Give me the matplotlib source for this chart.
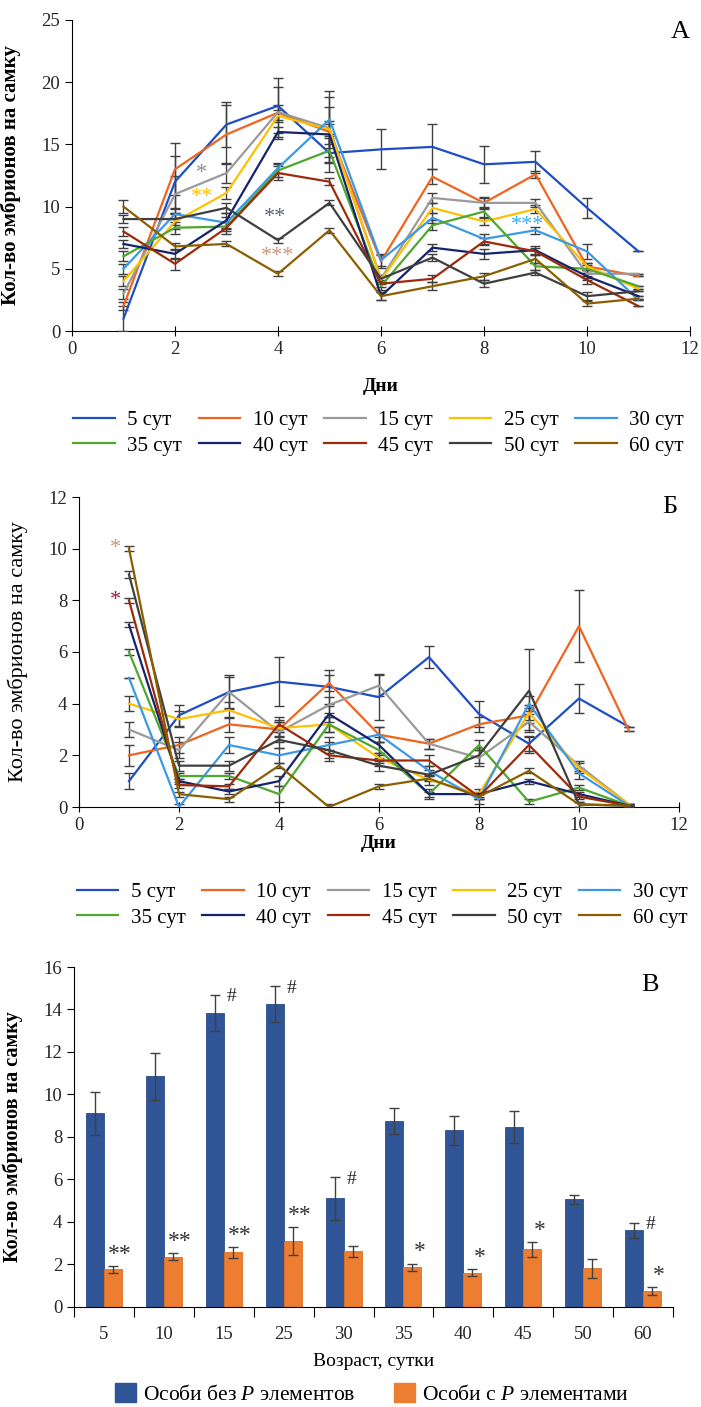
import matplotlib
matplotlib.use("Agg")
import matplotlib.pyplot as plt
from matplotlib.patches import Patch
from matplotlib.lines import Line2D
import numpy as np

plt.rcParams['font.family'] = ['Liberation Serif', 'DejaVu Serif']
plt.rcParams['mathtext.fontset'] = 'custom'
plt.rcParams['mathtext.rm'] = 'Liberation Serif'
plt.rcParams['mathtext.it'] = 'Liberation Serif:italic'

# ---- data ----
days = [1, 2, 3, 4, 5, 6, 7, 8, 9, 10, 11]
series_names = ["5 сут", "10 сут", "15 сут", "25 сут", "30 сут",
                "35 сут", "40 сут", "45 сут", "50 сут", "60 сут"]
series_colors = ["#1f4ec4", "#f0641e", "#9a9a9a", "#ffc000", "#3a9ae8",
                 "#4ea72e", "#15236b", "#9e2a0b", "#3f3f3f", "#8b5f00"]

# panel A: without P elements
a_vals = [
    [1.0, 12.0, 16.6, 18.1, 14.3, 14.6, 14.8, 13.4, 13.6, 9.9, 6.4],
    [2.0, 13.0, 15.8, 17.55, 16.0, 5.6, 12.4, 10.3, 12.6, 5.2, 4.4],
    [3.0, 11.0, 12.7, 17.6, 16.3, 4.2, 10.7, 10.3, 10.3, 4.6, 4.6],
    [4.0, 8.8, 11.1, 17.3, 16.2, 4.1, 9.9, 8.8, 9.8, 5.2, 3.4],
    [5.0, 9.4, 8.7, 13.1, 17.0, 5.7, 9.1, 7.4, 8.1, 6.4, 2.5],
    [6.0, 8.3, 8.4, 12.9, 14.5, 3.6, 8.5, 9.6, 5.2, 5.0, 3.6],
    [7.0, 6.2, 8.9, 16.0, 15.8, 2.8, 6.7, 6.2, 6.5, 4.4, 2.8],
    [8.0, 5.4, 8.3, 12.7, 12.0, 3.8, 4.2, 7.2, 6.4, 4.1, 2.0],
    [9.0, 9.0, 9.9, 7.3, 10.3, 4.2, 5.9, 3.8, 4.7, 2.8, 3.2],
    [10.0, 6.8, 7.0, 4.6, 8.1, 2.8, 3.6, 4.4, 5.8, 2.2, 2.6],
]
a_errs = [
    [1.0, 2.1, 1.8, 2.2, 1.5, 1.6, 1.8, 1.5, 0.9, 0.8, 0.0],
    [0.3, 2.1, 2.4, 2.1, 2.0, 0.5, 0.6, 0.5, 0.3, 0.3, 0.0],
    [0.4, 1.5, 0.8, 0.6, 0.6, 0.3, 0.4, 0.4, 0.3, 0.3, 0.0],
    [0.4, 0.6, 0.5, 0.5, 2.6, 0.3, 0.4, 0.3, 0.3, 0.3, 0.0],
    [0.4, 0.4, 0.5, 0.4, 2.3, 0.5, 0.4, 0.4, 0.3, 0.6, 0.0],
    [0.4, 0.5, 0.4, 0.5, 1.0, 0.3, 0.4, 0.4, 0.3, 0.3, 0.0],
    [0.3, 0.4, 0.6, 0.4, 0.8, 0.3, 0.3, 0.4, 0.3, 0.3, 0.0],
    [0.4, 0.5, 0.5, 0.6, 0.3, 0.3, 0.3, 0.3, 0.3, 0.3, 0.0],
    [0.3, 0.5, 0.4, 0.2, 0.2, 0.3, 0.3, 0.3, 0.2, 0.3, 0.0],
    [0.5, 0.3, 0.2, 0.2, 0.2, 0.3, 0.3, 0.3, 0.3, 0.2, 0.0],
]

# panel Б: with P elements
b_vals = [
    [1.0, 3.55, 4.45, 4.85, 4.65, 4.25, 5.8, 3.6, 2.45, 4.2, 3.1],
    [2.0, 2.4, 3.2, 3.0, 4.8, 2.8, 2.45, 3.2, 3.55, 7.0, 2.95],
    [3.0, 2.2, 4.45, 2.9, 3.95, 4.7, 2.45, 1.9, 3.3, 1.6, 0.1],
    [4.0, 3.4, 3.75, 3.05, 3.2, 1.9, 1.05, 0.5, 3.65, 1.5, 0.1],
    [5.0, 0.0, 2.4, 2.0, 2.4, 2.8, 1.4, 0.3, 4.0, 1.3, 0.05],
    [6.0, 1.2, 1.2, 0.5, 3.2, 2.2, 0.5, 2.4, 0.2, 0.75, 0.05],
    [7.05, 1.0, 0.6, 1.0, 3.6, 2.4, 0.5, 0.5, 1.0, 0.5, 0.05],
    [8.0, 0.85, 0.8, 3.2, 2.0, 1.8, 1.8, 0.4, 2.4, 0.4, 0.05],
    [9.0, 1.6, 1.6, 2.6, 2.2, 1.6, 1.25, 2.0, 4.5, 0.1, 0.05],
    [10.0, 0.5, 0.3, 1.6, 0.0, 0.8, 1.1, 0.4, 1.4, 0.1, 0.05],
]
b_errs = [
    [0.3, 0.4, 0.65, 0.95, 0.65, 0.9, 0.42, 0.5, 0.3, 0.55, 0.0],
    [0.4, 0.3, 0.3, 0.3, 0.3, 0.3, 0.2, 0.3, 0.3, 1.4, 0.0],
    [0.3, 0.3, 0.6, 0.4, 0.3, 0.4, 0.2, 0.3, 0.3, 0.2, 0.0],
    [0.3, 0.3, 0.3, 0.3, 0.3, 0.2, 0.2, 0.2, 0.3, 0.2, 0.0],
    [0.0, 0.1, 0.3, 0.3, 0.3, 0.3, 0.2, 0.2, 0.3, 0.2, 0.0],
    [0.1, 0.1, 0.1, 0.3, 0.3, 0.3, 0.2, 0.2, 0.1, 0.1, 0.0],
    [0.1, 0.1, 0.1, 0.2, 0.3, 0.3, 0.1, 0.1, 0.1, 0.1, 0.0],
    [0.1, 0.1, 0.1, 0.3, 0.2, 0.2, 0.2, 0.1, 0.3, 0.1, 0.0],
    [0.15, 0.2, 0.2, 0.3, 0.3, 0.2, 0.2, 0.3, 1.6, 0.1, 0.0],
    [0.1, 0.1, 0.1, 0.1, 0.1, 0.1, 0.1, 0.1, 0.1, 0.1, 0.0],
]

# panel В: mean per age
ages = ["5", "10", "15", "25", "30", "35", "40", "45", "50", "60"]
no_p = [9.1, 10.85, 13.85, 14.25, 5.1, 8.75, 8.3, 8.45, 5.05, 3.6]
no_p_err = [1.0, 1.1, 0.85, 0.85, 1.0, 0.6, 0.7, 0.75, 0.2, 0.35]
with_p = [1.75, 2.35, 2.55, 3.1, 2.6, 1.85, 1.6, 2.7, 1.8, 0.72]
with_p_err = [0.17, 0.15, 0.25, 0.65, 0.25, 0.17, 0.15, 0.35, 0.45, 0.2]
no_p_marks = ["", "", "#", "#", "#", "", "", "", "", "#"]
with_p_marks = ["**", "**", "**", "**", "", "*", "*", "*", "", "*"]

W, H = 701, 1407
fig = plt.figure(figsize=(W / 100, H / 100), dpi=100)

def frac_box(x0, x1, ytop, ybot):
    return [x0 / W, 1 - ybot / H, (x1 - x0) / W, (ybot - ytop) / H]

err_col = "#404040"
tick_col = "#262626"


def line_panel(ax, vals, errs, ymax, ystep):
    for v, e, c in zip(vals, errs, series_colors):
        ax.errorbar(days, v, yerr=e, color=c, lw=1.6, ecolor=err_col,
                    elinewidth=1.0, capsize=3.5, capthick=1.0, zorder=3)
    ax.set_xlim(0, 12)
    ax.set_ylim(0, ymax)
    ax.set_xticks(range(0, 13, 2))
    ax.set_yticks(np.arange(0, ymax + 0.1, ystep))
    for s in ["top", "right"]:
        ax.spines[s].set_visible(False)
    ax.tick_params(axis="both", labelsize=13.5, colors="black", labelcolor=tick_col)
    ax.tick_params(axis="x", direction="inout", length=7)
    ax.tick_params(axis="y", direction="out", length=5)


# legend fills column by column, so interleave the two rows
order = [0, 5, 1, 6, 2, 7, 3, 8, 4, 9]
handles = [Line2D([0], [0], color=series_colors[i], lw=1.6) for i in order]
labels = [series_names[i] for i in order]

# ---- Panel A ----
axA = fig.add_axes(frac_box(72, 690, 20, 331))
line_panel(axA, a_vals, a_errs, 25, 5)
axA.set_ylabel("Кол-во эмбрионов на самку", fontsize=15, fontweight="bold")
axA.yaxis.set_label_coords(-0.083, 0.5)
axA.text(0.5, -0.18, "Дни", transform=axA.transAxes, ha="center", va="center",
         fontsize=14, fontweight="bold")
axA.text(0.985, 0.961, "А", transform=axA.transAxes, ha="center", va="center", fontsize=19)
axA.text(2.52, 12.7, "*", color="#8a8a8a", fontsize=16, ha="center", va="center")
axA.text(2.52, 10.7, "**", color="#ffc000", fontsize=16, ha="center", va="center")
axA.text(3.95, 9.1, "**", color="#5a6478", fontsize=16, ha="center", va="center")
axA.text(4.0, 6.0, "***", color="#c99580", fontsize=16, ha="center", va="center")
axA.text(8.85, 8.5, "***", color="#3aaaf0", fontsize=16, ha="center", va="center")

fig.legend(handles, labels, loc="center", bbox_to_anchor=(0.54, 1 - 433 / H),
           ncol=5, frameon=False, fontsize=15, handlelength=2.0, columnspacing=0.8,
           handletextpad=0.6, labelspacing=0.3)

# ---- Panel Б ----
axB = fig.add_axes(frac_box(79, 679, 497, 807))
line_panel(axB, b_vals, b_errs, 12, 2)
axB.set_ylabel("Кол-во эмбрионов на самку", fontsize=16)
axB.yaxis.set_label_coords(-0.085, 0.5)
axB.text(0.5, -0.118, "Дни", transform=axB.transAxes, ha="center", va="center",
         fontsize=14, fontweight="bold")
axB.text(0.985, 0.968, "Б", transform=axB.transAxes, ha="center", va="center", fontsize=19)
axB.text(0.72, 10.0, "*", color="#c99580", fontsize=16, ha="center", va="center")
axB.text(0.72, 8.0, "*", color="#9b1c3c", fontsize=16, ha="center", va="center")

fig.legend(handles, labels, loc="center", bbox_to_anchor=(0.545, 1 - 905 / H),
           ncol=5, frameon=False, fontsize=15, handlelength=2.0, columnspacing=0.8,
           handletextpad=0.6, labelspacing=0.3)

# ---- Panel В ----
axC = fig.add_axes(frac_box(74, 673, 967, 1306.5))
x = np.arange(len(ages))
bw = 0.3
axC.bar(x - bw / 2, no_p, bw, color="#2f5597", edgecolor="#2a4c88", lw=0.6,
        yerr=no_p_err, ecolor=err_col, error_kw=dict(elinewidth=1.0, capsize=3.5, capthick=1.0))
axC.bar(x + bw / 2, with_p, bw, color="#ed7d31", edgecolor="#e07020", lw=0.6,
        yerr=with_p_err, ecolor=err_col, error_kw=dict(elinewidth=1.0, capsize=3.5, capthick=1.0))
for i in range(len(ages)):
    if no_p_marks[i]:
        axC.text(x[i] + 0.13, no_p[i] + no_p_err[i] - 0.1, no_p_marks[i], fontsize=14,
                 ha="center", va="center", color="#222222")
    if with_p_marks[i]:
        axC.text(x[i] + bw / 2 + 0.12, with_p[i] + with_p_err[i] + 0.55, with_p_marks[i],
                 fontsize=17, ha="center", va="center", color="#333333")
axC.set_xlim(-0.5, len(ages) - 0.5)
axC.set_ylim(0, 16)
axC.set_yticks(range(0, 17, 2))
axC.set_xticks(np.arange(-0.5, len(ages), 1.0))
axC.set_xticklabels([])
axC.set_xticks(x, minor=True)
axC.set_xticklabels(ages, minor=True)
axC.tick_params(axis="x", which="major", direction="out", length=7)
axC.tick_params(axis="x", which="minor", length=0, pad=14)
axC.tick_params(axis="both", which="both", labelsize=13.5, labelcolor=tick_col)
axC.tick_params(axis="y", direction="out", length=5)
for s in ["top", "right"]:
    axC.spines[s].set_visible(False)
axC.set_ylabel("Кол-во эмбрионов на самку", fontsize=14.5, fontweight="bold")
axC.yaxis.set_label_coords(-0.085, 0.5)
axC.text(0.5, -0.163, "Возраст, сутки", transform=axC.transAxes, ha="center", va="center",
         fontsize=14)
axC.text(0.962, 0.947, "В", transform=axC.transAxes, ha="center", va="center", fontsize=19)

bar_handles = [Patch(color="#2f5597"), Patch(color="#ed7d31")]
fig.legend(bar_handles, ["Особи без $\\mathit{P}$ элементов", "Особи с $\\mathit{P}$ элементами"],
           loc="center", bbox_to_anchor=(0.53, 1 - 1394 / H), ncol=2, frameon=False,
           fontsize=15.5, handlelength=1.0, handleheight=1.0, handletextpad=0.3,
           columnspacing=1.8)

fig.savefig("out.png", dpi=100)
